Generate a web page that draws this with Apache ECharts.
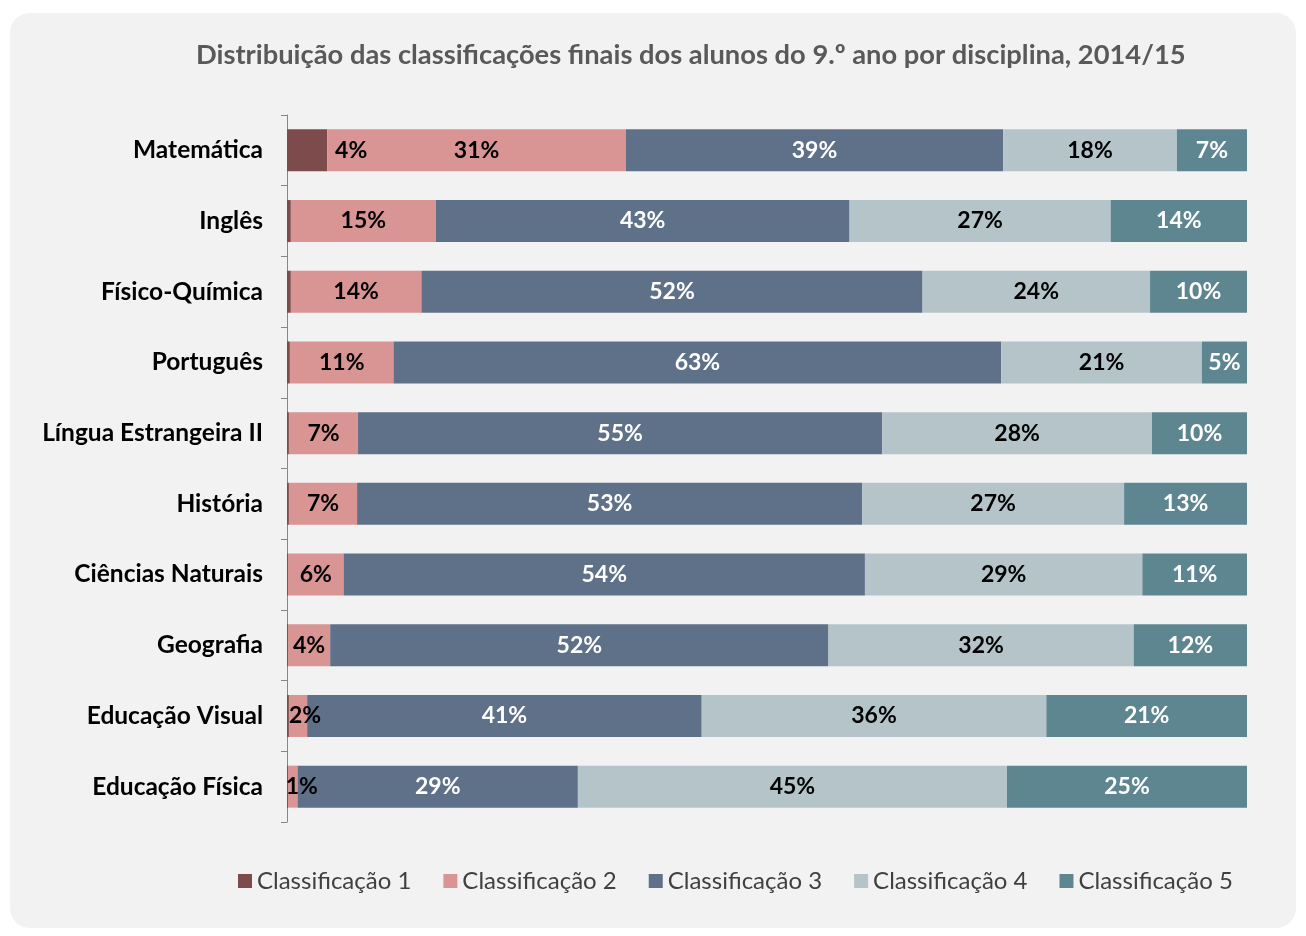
<!DOCTYPE html>
<html>
<head>
<meta charset="utf-8">
<script src="https://cdn.jsdelivr.net/npm/echarts@6/dist/echarts.min.js"></script>
<style>
  html, body { margin: 0; padding: 0; background: #ffffff; }
  #chart { width: 1306px; height: 936px; }
</style>
</head>
<body>
<div id="chart"></div>
<script>
// disciplinas, de cima para baixo
var disciplinas = ['Matemática', 'Inglês', 'Físico-Química', 'Português', 'Língua Estrangeira II',
  'História', 'Ciências Naturais', 'Geografia', 'Educação Visual', 'Educação Física'];
var classes = ['Classificação 1', 'Classificação 2', 'Classificação 3', 'Classificação 4', 'Classificação 5'];
// percentagens
var class1 = [4.2, 0.4, 0.4, 0.3, 0.2, 0.2, 0.1, 0.1, 0.2, 0.1];
var class2 = [31.1, 15.1, 13.6, 10.8, 7.2, 7.1, 5.8, 4.4, 1.9, 1.0];
var class3 = [39.3, 43.1, 52.2, 63.3, 54.6, 52.6, 54.3, 51.9, 41.1, 29.2];
var class4 = [18.1, 27.2, 23.7, 20.9, 28.1, 27.3, 28.9, 31.8, 35.9, 44.7];
var class5 = [7.3, 14.2, 10.1, 4.7, 9.9, 12.8, 10.9, 11.8, 20.9, 25.0];

var cores = ['#7d4b4b', '#d99594', '#5f7089', '#b4c4c8', '#5e8690'];
var corTexto = ['#000000', '#000000', '#ffffff', '#000000', '#ffffff'];
var fonte = 'Lato, "Open Sans", sans-serif';

var chart = echarts.init(document.getElementById('chart'));

function fazSerie(i, dados) {
  return {
    name: classes[i],
    type: 'bar',
    stack: 'total',
    barWidth: 42,
    itemStyle: { color: cores[i] },
    label: {
      show: true,
      position: 'inside',
      color: corTexto[i],
      fontFamily: fonte,
      fontWeight: 'bold',
      fontSize: 23,
      formatter: function (p) {
        return p.value < 1 ? '' : Math.round(p.value) + '%';
      }
    },
    data: dados
  };
}

// rótulos deslocados à mão no original
function desloca(dados, desvios) {
  return dados.map(function (v, k) {
    return desvios[k] ? { value: v, label: { offset: desvios[k] } } : v;
  });
}

var serie1 = fazSerie(0, desloca(class1, { 0: [44, 0] }));
var serie2 = fazSerie(1, desloca(class2, { 8: [7, 0], 9: [9, 0] }));

chart.setOption({
  backgroundColor: '#ffffff',
  animation: false,
  graphic: [{
    type: 'rect',
    z: -10,
    shape: { x: 10, y: 13, width: 1286, height: 915, r: 20 },
    style: { fill: '#f2f2f2' }
  }],
  title: {
    text: 'Distribuição das classificações finais dos alunos do 9.º ano por disciplina, 2014/15',
    left: 191,
    top: 37,
    textStyle: { color: '#595959', fontFamily: fonte, fontWeight: 'bold', fontSize: 27.3 }
  },
  legend: {
    data: classes,
    bottom: 38,
    left: 233,
    itemWidth: 14,
    itemHeight: 14,
    itemGap: 32,
    icon: 'rect',
    textStyle: { color: '#404040', fontFamily: fonte, fontSize: 24 }
  },
  grid: { left: 287, right: 59, top: 115, bottom: 114 },
  xAxis: {
    type: 'value',
    min: 0,
    max: 100,
    show: false
  },
  yAxis: {
    type: 'category',
    inverse: true,
    data: disciplinas,
    axisLine: { show: true, lineStyle: { color: '#868686', width: 1 } },
    axisTick: { show: true, length: 6, lineStyle: { color: '#868686' } },
    axisLabel: { color: '#000000', fontFamily: fonte, fontWeight: 'bold', fontSize: 24.5, margin: 24 }
  },
  series: [
    serie1,
    serie2,
    fazSerie(2, class3),
    fazSerie(3, class4),
    fazSerie(4, class5)
  ]
});
</script>
</body>
</html>
